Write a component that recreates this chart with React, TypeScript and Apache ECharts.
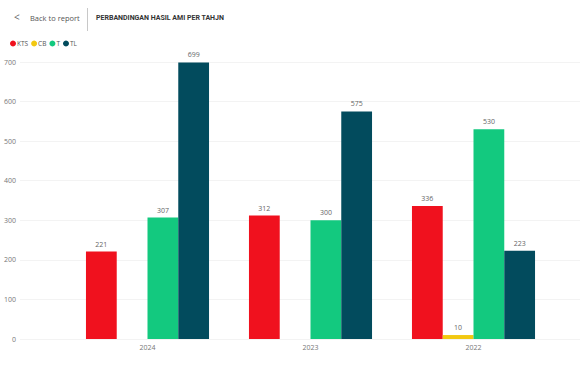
import React, { useEffect, useRef } from "react";
import * as echarts from "echarts";

const categories = ["2024", "2023", "2022"];
const seriesNames = ["KTS", "CB", "T", "TL"];
const ktsValues = [221, 312, 336];
const cbValues: (number | null)[] = [null, null, 10];
const tValues = [307, 300, 530];
const tlValues = [699, 575, 223];
const yTicks = { min: 0, max: 700, interval: 100 };
const colors = ["#F0111E", "#F2C811", "#13C97F", "#024B5D"];

export default function App() {
  const ref = useRef<HTMLDivElement>(null);
  useEffect(() => {
    if (!ref.current) return;
    const chart = echarts.init(ref.current, null, { renderer: "svg" });
    const font = "'Open Sans', 'Noto Sans', sans-serif";
    const values = [ktsValues, cbValues, tValues, tlValues];
    chart.setOption({
      animation: false,
      textStyle: { fontFamily: font },
      color: colors,
      legend: {
        data: seriesNames,
        left: 5,
        top: 35,
        icon: "circle",
        itemWidth: 6,
        itemHeight: 6,
        itemGap: 3,
        textStyle: { fontSize: 6.5, color: "#555", padding: [0, 0, 0, -4] },
      },
      graphic: [
        {
          type: "text",
          left: 14,
          top: 12,
          style: { text: "<", fontSize: 10, fill: "#666", fontFamily: font },
        },
        {
          type: "text",
          left: 30,
          top: 14,
          style: { text: "Back to report", fontSize: 7.5, fill: "#555", fontFamily: font },
        },
        {
          type: "rect",
          shape: { x: 87, y: 8, width: 1, height: 23 },
          style: { fill: "#c8c8c8" },
        },
        {
          type: "text",
          left: 96,
          top: 14,
          style: {
            text: "PERBANDINGAN HASIL AMI PER TAHJN",
            fontSize: 7,
            fontWeight: "bold",
            fill: "#333",
            fontFamily: "Roboto, sans-serif",
          },
        },
      ],
      grid: [
        { left: 20, right: 4, top: 62, bottom: 27 },
        { left: 66, right: 29, top: 62, bottom: 27 },
      ],
      xAxis: [
        { type: "category", gridIndex: 0, data: categories, show: false },
        {
          type: "category",
          gridIndex: 1,
          data: categories,
          axisLine: { show: false },
          axisTick: { show: false },
          axisLabel: { fontSize: 7, color: "#777", margin: 5 },
        },
      ],
      yAxis: [
        {
          type: "value",
          gridIndex: 0,
          ...yTicks,
          axisLine: { show: false },
          axisTick: { show: false },
          axisLabel: { fontSize: 7, color: "#777", margin: 4 },
          splitLine: { lineStyle: { color: "#f3f3f3", width: 1 } },
        },
        {
          type: "value",
          gridIndex: 1,
          ...yTicks,
          show: false,
          splitLine: { show: false },
        },
      ],
      series: seriesNames.map((name, i) => ({
        name,
        type: "bar",
        xAxisIndex: 1,
        yAxisIndex: 1,
        data: values[i],
        barGap: "0%",
        barCategoryGap: "24.5%",
        itemStyle: { color: colors[i] },
        label: {
          show: true,
          position: "top",
          distance: 4,
          fontSize: 7,
          color: "#666",
        },
      })),
    });
    return () => chart.dispose();
  }, []);
  return (
    <div
      ref={ref}
      style={{ position: "fixed", left: 0, top: 0, width: 584, height: 366, background: "#fff" }}
    />
  );
}
